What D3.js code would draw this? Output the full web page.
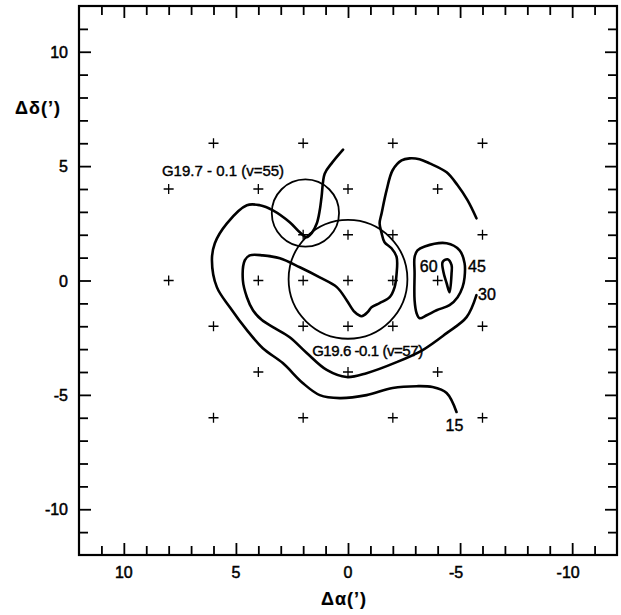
<!DOCTYPE html>
<html>
<head>
<meta charset="utf-8">
<script src="https://cdn.jsdelivr.net/npm/d3@7"></script>
<style>
  body { margin: 0; background: #fff; }
  svg { display: block; }
</style>
</head>
<body>
<svg id="chart" width="621" height="615"></svg>
<script>
// tick labels on both axes
const majorTicks = [10, 5, 0, -5, -10];

// observed positions (delta alpha, delta delta in arcmin)
const gridX = [6, 2, -2, -6, 8, 4, 0, -4, 2, 0, -2, -6, 8, 4, 2, 0, -2, -4, 6, 2, 0, -2, -6, 4, 0, -4, 6, 2, -2, -6];
const gridY = [6, 6, 6, 6, 4, 4, 4, 4, 2, 2, 2, 2, 0, 0, 0, 0, 0, 0, -2, -2, -2, -2, -2, -4, -4, -4, -6, -6, -6, -6];

// sources: name, centre, beam circle radius
const sourceNames = ["G19.7 - 0.1 (v=55)", "G19.6 -0.1 (v=57)"];
const sourceX = [1.9, 0.0];
const sourceY = [2.95, 0.05];
const sourceR = [1.5, 2.65];

// contour levels and their traced outlines
const levels = [15, 30, 45, 60];
const contour15 = [[0.22,5.72],[0.74,5.11],[1.04,4.67],[1.18,3.65],[1.26,3.07],[1.39,2.50],[1.62,2.07],[1.84,1.89],
  [2.15,2.11],[2.60,2.55],[3.35,3.07],[3.93,3.29],[4.51,3.29],[5.40,2.50],[5.94,1.63],[6.07,0.89],[5.85,-0.29],
  [5.27,-1.17],[4.51,-2.17],[3.80,-2.96],[2.91,-3.61],[2.02,-4.48],[1.26,-5.01],[0.37,-5.14],[-0.83,-5.01],
  [-1.99,-4.70],[-3.06,-4.62],[-3.77,-4.66],[-4.40,-4.92],[-4.84,-5.75]];
const contour30 = [[-5.73,2.72],[-5.33,3.51],[-4.89,4.16],[-4.40,4.73],[-3.64,5.12],[-3.19,5.30],[-2.75,5.34],
  [-2.39,5.25],[-1.99,4.82],[-1.72,3.94],[-1.50,2.94],[-1.41,2.50],[-1.50,2.07],[-1.63,1.67],[-1.94,1.41],
  [-2.17,1.02],[-2.17,0.32],[-2.08,-0.29],[-1.86,-0.73],[-1.41,-0.99],[-1.05,-1.17],[-0.88,-1.38],[-0.61,-1.56],
  [-0.30,-1.38],[0.06,-0.86],[0.50,-0.29],[1.26,0.14],[2.15,0.58],[3.04,0.97],[3.80,1.10],[4.38,1.10],[4.60,0.89],
  [4.69,0.01],[4.51,-0.73],[4.24,-1.30],[3.84,-1.73],[3.27,-2.08],[2.60,-2.48],[1.84,-3.17],[0.95,-3.91],
  [0.06,-4.22],[-0.83,-4.05],[-2.17,-3.57],[-3.33,-3.04],[-4.40,-2.30],[-5.29,-1.60],[-5.73,-0.64]];
const contour45 = [[-3.42,1.49],[-4.40,1.63],[-4.98,1.32],[-5.20,0.76],[-5.20,0.14],[-5.11,-0.29],[-4.89,-0.73],
  [-4.53,-1.08],[-3.95,-1.30],[-3.51,-1.52],[-3.19,-1.65],[-3.06,-1.43],[-2.97,-0.86],[-2.97,0.32],[-2.97,1.02],
  [-3.10,1.32]];
const contour60 = [[-4.22,0.80],[-4.44,0.93],[-4.62,0.67],[-4.62,0.32],[-4.53,-0.51],[-4.40,-0.12],[-4.26,0.36]];
const labelX = [-4.75, -6.2, -5.75, -3.6];
const labelY = [-6.3, -0.6, 0.65, 0.65];

const svg = d3.select("#chart");
const frameL = 79, frameR = 617, frameT = 6, frameB = 555;

const x = d3.scaleLinear().domain([12, -12]).range([frameL, frameR]);
const y = d3.scaleLinear().domain([-12, 12]).range([frameB, frameT]);

const font = "'Liberation Sans', Arial, sans-serif";
const minor = d3.range(-11, 12);

// lettering in the original is a bit heavier than the regular face
function ink(sel, w) {
    return sel.attr("font-family", font).attr("stroke", "#000").attr("stroke-width", w).attr("fill", "#000");
}

// inward ticks on all four sides, longer at multiples of 5
function tickify(g, size, horiz) {
    g.select(".domain").remove();
    g.selectAll(".tick line")
        .attr("stroke-width", 1.8)
        .attr(horiz ? "y2" : "x2", d => d % 5 === 0 ? size * 12 : size * 9);
    g.selectAll(".tick text").remove();
}

svg.append("g").attr("transform", `translate(0,${frameB})`)
    .call(d3.axisBottom(x).tickValues(minor).tickSizeOuter(0))
    .call(g => tickify(g, -1, true));
svg.append("g").attr("transform", `translate(0,${frameT})`)
    .call(d3.axisTop(x).tickValues(minor).tickSizeOuter(0))
    .call(g => tickify(g, 1, true));
svg.append("g").attr("transform", `translate(${frameL},0)`)
    .call(d3.axisLeft(y).tickValues(minor).tickSizeOuter(0))
    .call(g => tickify(g, 1, false));
svg.append("g").attr("transform", `translate(${frameR},0)`)
    .call(d3.axisRight(y).tickValues(minor).tickSizeOuter(0))
    .call(g => tickify(g, -1, false));

svg.append("rect")
    .attr("x", frameL).attr("y", frameT)
    .attr("width", frameR - frameL).attr("height", frameB - frameT)
    .attr("fill", "none").attr("stroke", "#000").attr("stroke-width", 2.2);

// tick labels
svg.selectAll(".xlab").data(majorTicks).enter().append("text")
    .attr("x", d => x(d) - (d < 0 ? 4 : 0))
    .attr("y", 578)
    .attr("text-anchor", "middle")
    .attr("font-size", 16)
    .call(ink, 0.5)
    .text(d => d < 0 ? "-" + Math.abs(d) : d);

svg.selectAll(".ylab").data(majorTicks).enter().append("text")
    .attr("x", 68)
    .attr("y", d => y(d) + 6)
    .attr("text-anchor", "end")
    .attr("font-size", 16)
    .call(ink, 0.5)
    .text(d => d < 0 ? "-" + Math.abs(d) : d);

svg.append("text")
    .attr("x", 38).attr("y", 114)
    .attr("text-anchor", "middle")
    .attr("font-size", 18).attr("font-weight", "bold")
    .attr("letter-spacing", 1)
    .call(ink, 0.2)
    .text("\u0394\u03b4(\u2019)");

svg.append("text")
    .attr("x", 344).attr("y", 605)
    .attr("text-anchor", "middle")
    .attr("font-size", 18).attr("font-weight", "bold")
    .attr("letter-spacing", 1)
    .call(ink, 0.2)
    .text("\u0394\u03b1(\u2019)");

// observed positions as plus signs
svg.selectAll(".pt").data(gridX).enter().append("path")
    .attr("transform", (d, i) => `translate(${x(d)},${y(gridY[i])})`)
    .attr("d", "M-5,0H5M0,-5V5")
    .attr("stroke", "#000").attr("stroke-width", 1.3);

// source circles
const pxPerUnit = Math.abs(x(1) - x(0));
svg.selectAll(".src").data(sourceX).enter().append("circle")
    .attr("cx", d => x(d))
    .attr("cy", (d, i) => y(sourceY[i]))
    .attr("r", (d, i) => sourceR[i] * pxPerUnit)
    .attr("fill", "none").attr("stroke", "#000").attr("stroke-width", 1.8);

svg.append("text")
    .attr("x", x(8.3)).attr("y", y(4.82) + 6)
    .attr("font-size", 15)
    .call(ink, 0.4)
    .text(sourceNames[0]);
svg.append("text")
    .attr("x", x(1.6)).attr("y", y(-3.05) + 6)
    .attr("font-size", 15)
    .attr("textLength", 111)
    .call(ink, 0.4)
    .text(sourceNames[1]);

// contours
const open = d3.line().x(d => x(d[0])).y(d => y(d[1])).curve(d3.curveCatmullRom.alpha(0.5));
const closed = d3.line().x(d => x(d[0])).y(d => y(d[1])).curve(d3.curveCatmullRomClosed.alpha(0.5));

[contour15, contour30].forEach(c => {
    svg.append("path").attr("d", open(c))
        .attr("fill", "none").attr("stroke", "#000").attr("stroke-width", 2.6)
        .attr("stroke-linejoin", "round").attr("stroke-linecap", "round");
});
[contour45, contour60].forEach(c => {
    svg.append("path").attr("d", closed(c))
        .attr("fill", "none").attr("stroke", "#000").attr("stroke-width", 2.6)
        .attr("stroke-linejoin", "round");
});

svg.selectAll(".lvl").data(levels).enter().append("text")
    .attr("x", (d, i) => x(labelX[i]))
    .attr("y", (d, i) => y(labelY[i]) + 6)
    .attr("text-anchor", "middle")
    .attr("font-size", 16)
    .call(ink, 0.4)
    .text(d => d);
</script>
</body>
</html>
